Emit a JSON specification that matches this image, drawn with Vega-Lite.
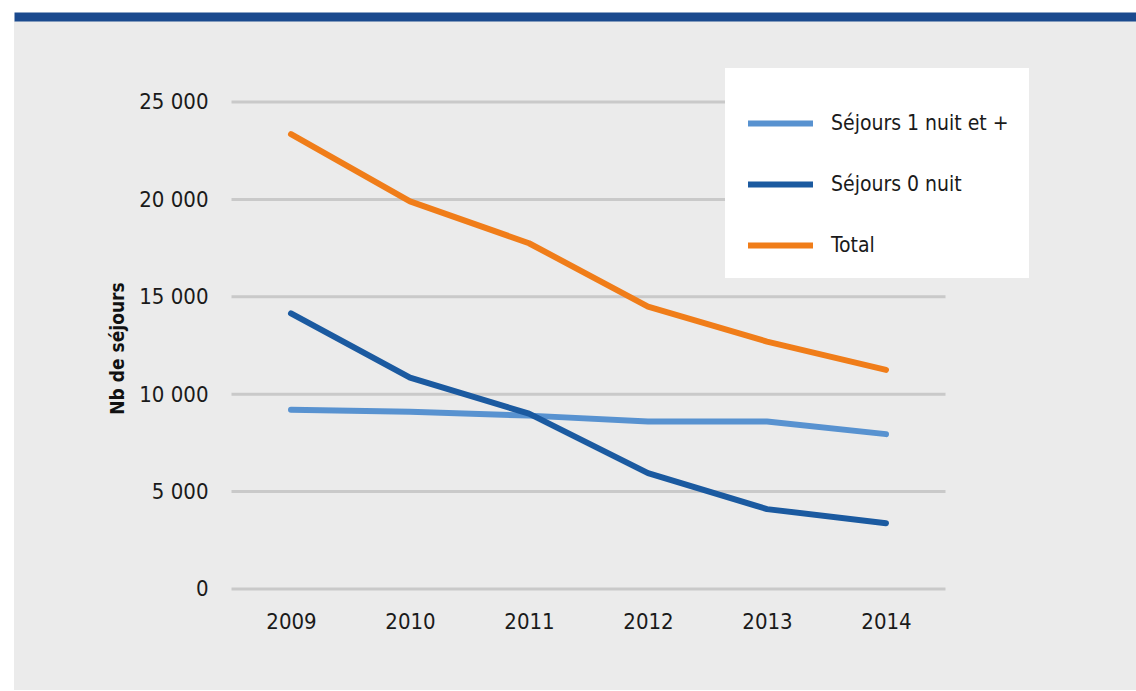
{
  "$schema": "https://vega.github.io/schema/vega-lite/v6.json",
  "width": 1122,
  "height": 669,
  "autosize": {"type": "none"},
  "padding": {"left": 14, "top": 21, "right": 0, "bottom": 1},
  "background": "white",
  "config": {
    "view": {"fill": "#ebebeb", "stroke": null},
    "font": "'DejaVu Sans Condensed', 'Roboto Condensed', 'Open Sans Condensed', Roboto, sans-serif",
    "locale": {"number": {"decimal": ",", "thousands": " ", "grouping": [3], "currency": ["", " €"]}},
    "axis": {"labelFont": "'DejaVu Sans Condensed', 'Roboto Condensed', 'Open Sans Condensed', Roboto, sans-serif", "titleFont": "'DejaVu Sans Condensed', 'Roboto Condensed', 'Open Sans Condensed', Roboto, sans-serif"},
    "legend": {"labelFont": "'DejaVu Sans Condensed', 'Roboto Condensed', 'Open Sans Condensed', Roboto, sans-serif"}
  },
  "layer": [
    {
      "data": {"values": [{"v": 0}, {"v": 5000}, {"v": 10000}, {"v": 15000}, {"v": 20000}, {"v": 25000}]},
      "mark": {"type": "rule", "color": "#c9c9c9", "strokeWidth": 3},
      "encoding": {
        "y": {"field": "v", "type": "quantitative", "scale": {"domain": [-5185, 29158], "nice": false, "zero": false}, "axis": null},
        "x": {"datum": 2008.5, "type": "quantitative", "scale": {"domain": [2006.6723, 2016.1008], "nice": false, "zero": false},
              "axis": {"orient": "top", "domain": true, "domainColor": "#1b4a8e", "domainWidth": 9, "offset": 4.5, "labels": false, "ticks": false, "grid": false, "title": null}},
        "x2": {"datum": 2014.5}
      }
    },
    {
      "data": {"values": [
        {"annee": 2009, "serie": "Séjours 1 nuit et +", "sejours": 9200},
        {"annee": 2010, "serie": "Séjours 1 nuit et +", "sejours": 9100},
        {"annee": 2011, "serie": "Séjours 1 nuit et +", "sejours": 8900},
        {"annee": 2012, "serie": "Séjours 1 nuit et +", "sejours": 8600},
        {"annee": 2013, "serie": "Séjours 1 nuit et +", "sejours": 8600},
        {"annee": 2014, "serie": "Séjours 1 nuit et +", "sejours": 7950},
        {"annee": 2009, "serie": "Séjours 0 nuit", "sejours": 14150},
        {"annee": 2010, "serie": "Séjours 0 nuit", "sejours": 10850},
        {"annee": 2011, "serie": "Séjours 0 nuit", "sejours": 9000},
        {"annee": 2012, "serie": "Séjours 0 nuit", "sejours": 5950},
        {"annee": 2013, "serie": "Séjours 0 nuit", "sejours": 4100},
        {"annee": 2014, "serie": "Séjours 0 nuit", "sejours": 3380},
        {"annee": 2009, "serie": "Total", "sejours": 23350},
        {"annee": 2010, "serie": "Total", "sejours": 19900},
        {"annee": 2011, "serie": "Total", "sejours": 17750},
        {"annee": 2012, "serie": "Total", "sejours": 14500},
        {"annee": 2013, "serie": "Total", "sejours": 12700},
        {"annee": 2014, "serie": "Total", "sejours": 11250}
      ]},
      "mark": {"type": "line", "strokeWidth": 6, "strokeCap": "round", "strokeJoin": "round"},
      "encoding": {
        "x": {"field": "annee", "type": "quantitative", "scale": {"domain": [2006.6723, 2016.1008], "nice": false, "zero": false},
              "axis": {"orient": "bottom", "values": [2009, 2010, 2011, 2012, 2013, 2014], "format": "d", "offset": -101, "domain": false, "ticks": false, "grid": false, "labelPadding": 22, "labelFontSize": 22, "labelColor": "#1a1a1a", "title": null}},
        "y": {"field": "sejours", "type": "quantitative", "scale": {"domain": [-5185, 29158], "nice": false, "zero": false},
              "axis": {"orient": "left", "offset": -219, "values": [0, 5000, 10000, 15000, 20000, 25000], "format": ",d", "domain": false, "ticks": false, "grid": false, "labelPadding": 25, "labelFontSize": 22, "labelColor": "#1a1a1a", "labelBaseline": "middle",
                       "title": "Nb de séjours", "titleFontSize": 19, "titleFontWeight": "bold", "titleColor": "#111111", "titleX": -106, "titleY": 327, "titleBaseline": "bottom", "titleAlign": "center", "titleAngle": 270}},
        "color": {"field": "serie", "type": "nominal",
                  "scale": {"domain": ["Séjours 1 nuit et +", "Séjours 0 nuit", "Total"], "range": ["#5892d0", "#1b5aa0", "#f07d19"]},
                  "legend": {"orient": "none", "legendX": 711, "legendY": 47, "title": null, "fillColor": "white", "padding": 20,
                             "symbolType": "stroke", "symbolSize": 4225, "symbolStrokeWidth": 6, "labelFontSize": 21, "labelOffset": 15, "rowPadding": 13, "labelLimit": 400, "labelColor": "#1a1a1a"}}
      }
    }
  ],
  "resolve": {"axis": {"x": "independent", "y": "independent"}}
}
